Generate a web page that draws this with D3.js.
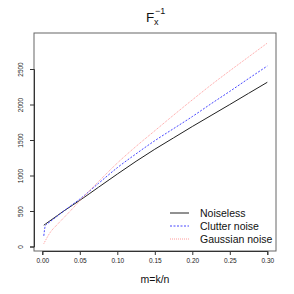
<!DOCTYPE html>
<html lang="en">
<head>
<meta charset="utf-8">
<script src="https://cdn.jsdelivr.net/npm/d3@7"></script>
<style>
body { margin: 0; background: #fff; }
text { font-family: "Liberation Sans", Arial, sans-serif; }
</style>
<title>F_x^-1</title>
</head>
<body>
<script>
// data
var mVals      = [0.002, 0.004, 0.01, 0.02, 0.03, 0.04, 0.05, 0.075, 0.1, 0.125, 0.15, 0.175, 0.2, 0.225, 0.25, 0.275, 0.3];
var noiseless  = [300, 315, 360, 435, 510, 580, 650, 835, 1020, 1200, 1370, 1530, 1690, 1845, 2000, 2157, 2313];
var clutter    = [150, 290, 345, 428, 510, 590, 668, 890, 1110, 1305, 1490, 1660, 1830, 2010, 2185, 2365, 2542];
var gaussian   = [40, 80, 190, 310, 420, 530, 645, 915, 1175, 1410, 1630, 1850, 2065, 2275, 2475, 2670, 2865];
var seriesNames = ["Noiseless", "Clutter noise", "Gaussian noise"];
var xTicks = [0, 0.05, 0.1, 0.15, 0.2, 0.25, 0.3];
var yTicks = [0, 500, 1000, 1500, 2000, 2500];

var w = 294, h = 294;
var svg = d3.select("body").append("svg")
  .attr("width", w).attr("height", h);

var box = {left: 34, right: 276, top: 33, bottom: 251};

var xScale = d3.scaleLinear().domain([0, 0.3]).range([42.3, 267.3]);
var yScale = d3.scaleLinear().domain([0, 2500]).range([246.5, 69]);

// plot frame
svg.append("rect")
  .attr("x", box.left).attr("y", box.top)
  .attr("width", box.right - box.left).attr("height", box.bottom - box.top)
  .attr("fill", "none").attr("stroke", "#666").attr("stroke-width", 1);

// axes
var xAxis = d3.axisBottom(xScale).tickValues(xTicks).tickSize(4).tickPadding(3)
  .tickFormat(d3.format(".2f"));
var gx = svg.append("g").attr("transform", "translate(0," + box.bottom + ")").call(xAxis);
gx.selectAll("text").style("font-size", "6.5px").attr("fill", "#222");

var yAxis = d3.axisLeft(yScale).tickValues(yTicks).tickSize(4).tickFormat(d3.format("d"));
var gy = svg.append("g").attr("transform", "translate(" + box.left + ",0)").call(yAxis);
gy.selectAll("text").remove();
gy.selectAll(".tick").append("text")
  .attr("transform", "translate(-11.5,0) rotate(-90)")
  .attr("text-anchor", "middle")
  .attr("fill", "#222")
  .style("font-size", "6.5px")
  .text(function(d) { return d; });
[gx, gy].forEach(function(g) {
  g.selectAll("line").attr("stroke", "#333");
  g.select(".domain").attr("stroke", "#333");
});

// lines
var styles = [
  {data: noiseless, color: "#222", dash: null},
  {data: clutter, color: "#4747ff", dash: "2,1.5"},
  {data: gaussian, color: "#ff9a9a", dash: "1,1"}
];
var line = d3.line()
  .x(function(d, i) { return xScale(mVals[i]); })
  .y(function(d) { return yScale(d); })
  .curve(d3.curveMonotoneX);

styles.forEach(function(s) {
  svg.append("path")
    .datum(s.data)
    .attr("d", line)
    .attr("fill", "none")
    .attr("stroke", s.color)
    .attr("stroke-width", 1)
    .attr("stroke-dasharray", s.dash);
});

// legend
var legend = svg.append("g");
styles.forEach(function(s, i) {
  var y = 213 + i * 13;
  legend.append("line")
    .attr("x1", 170).attr("x2", 189).attr("y1", y).attr("y2", y)
    .attr("stroke", s.color).attr("stroke-width", 1)
    .attr("stroke-dasharray", s.dash);
  legend.append("text")
    .attr("x", 200).attr("y", y).attr("dy", "0.35em")
    .style("font-size", "10.5px").attr("fill", "#111")
    .text(seriesNames[i]);
});

// axis title
svg.append("text")
  .attr("x", 155).attr("y", 283)
  .attr("text-anchor", "middle")
  .style("font-size", "10.5px").attr("fill", "#111")
  .text("m=k/n");

// main title F_x^-1
var title = svg.append("text").attr("x", 146).attr("y", 22).attr("fill", "#111");
title.append("tspan").style("font-size", "13.5px").text("F");
title.append("tspan").attr("x", 154).attr("y", 25).style("font-size", "9px").text("x");
title.append("tspan").attr("x", 155).attr("y", 14).style("font-size", "9px").text("\u22121");
</script>
</body>
</html>
